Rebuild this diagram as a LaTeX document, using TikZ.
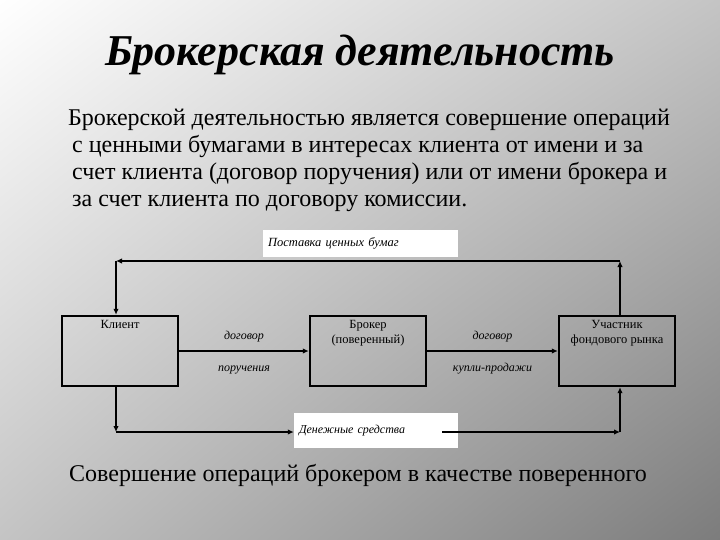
\documentclass[tikz,border=0pt]{standalone}
\usepackage{fontspec}
\setmainfont{Liberation Serif}
\usetikzlibrary{arrows.meta,shadings}

\definecolor{bgcorner}{HTML}{C4C4C4}
\definecolor{bgdark}{HTML}{7C7C7C}

\tikzset{
	box/.style = {draw, line width=2.4pt, minimum width=116pt, minimum height=70pt, inner sep=0pt},
	boxtxt/.style = {font=\fontsize{12.5}{15}\selectfont, align=center, inner sep=5pt},
	conn/.style = {line width=2.2pt, -{Latex[length=6pt,width=5.5pt]}},
	tag/.style = {fill=white, inner xsep=5pt, align=left, font=\fontsize{12.5}{14}\itshape},
	edgetxt/.style = {font=\fontsize{12}{14}\itshape, text height=8pt, text depth=3pt}
}

\begin{document}
\begin{tikzpicture}[x=1pt, y=-1pt]
			%\draw[help lines] (0,0) grid (720,540);
			\shade[upper left=white, upper right=bgcorner, lower left=bgcorner, lower right=bgdark]
				(0,0) rectangle (720,540);
			
			\node[font=\fontsize{44}{50}\bfseries\itshape] (title) at (360,55) {Брокерская деятельность};
			
			\node[anchor=north west, align=left, inner sep=0pt,
				font=\fontsize{24}{27}\selectfont] (text) at (68,109)
				{Брокерской деятельностью является совершение операций\\
				\hspace*{4pt}с ценными бумагами в интересах клиента от имени и за\\
				\hspace*{4pt}счет клиента (договор поручения) или от имени брокера и\\
				\hspace*{4pt}за счет клиента по договору комиссии.};
			
			\node[box, label={[boxtxt, anchor=north]north:Клиент}] (klient) at (120,351) {};
			\node[box, label={[boxtxt, anchor=north]north:Брокер\\(поверенный)}] (broker) at (368,351) {};
			\node[box, label={[boxtxt, anchor=north]north:Участник\\фондового рынка}] (uchastnik) at (617,351) {};
			
			\node[tag, minimum width=195pt, minimum height=27pt, text width=185pt] (postavka) at (360.5,243.5) {Поставка ценных бумаг};
			\node[tag, minimum width=164pt, minimum height=35pt, text width=154pt, font=\fontsize{12}{14}\itshape] (dengi) at (376,430.5) {Денежные средства};
			
			\coordinate (tl) at (116,261);
			\coordinate (tr) at (620,261);
			\coordinate (bl) at (116,432);
			\coordinate (br) at (620,432);
			\coordinate (dout) at (442,432);
			
			\draw[conn] (klient.east) -- node[edgetxt, above=4pt]{договор} node[edgetxt, below=8pt]{поручения} (broker.west);
			\draw[conn] (broker.east) -- node[edgetxt, above=4pt]{договор} node[edgetxt, below=8pt]{купли-продажи} (uchastnik.west);
			
			\draw[conn] (tr |- uchastnik.north) -- (tr);
			\draw[conn] (tr) -- (tl);
			\draw[conn] (tl) -- (tl |- klient.north);
			
			\draw[conn] (bl |- klient.south) -- (bl);
			\draw[conn] (bl) -- (bl -| dengi.west);
			\draw[conn] (dout) -- (br);
			\draw[conn] (br) -- (br |- uchastnik.south);
			
			\node[font=\fontsize{24}{27}\selectfont] (caption) at (358,475) {Совершение операций брокером в качестве поверенного};
		\end{tikzpicture}
\end{document}
